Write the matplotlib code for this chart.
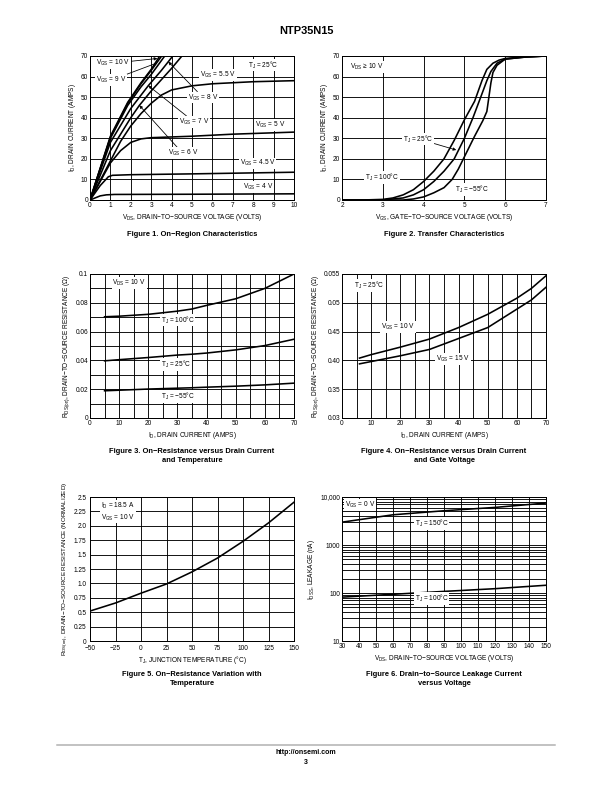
import matplotlib
matplotlib.use("Agg")
import matplotlib.pyplot as plt
from matplotlib.ticker import MultipleLocator, FixedLocator, LogLocator, NullFormatter

plt.rcParams["font.family"] = ["Liberation Sans", "DejaVu Sans"]
plt.rcParams["mathtext.fontset"] = "custom"
plt.rcParams["mathtext.rm"] = "Liberation Sans"
plt.rcParams["mathtext.default"] = "regular"

# ---- Figure 1: on-region characteristics (VDS in V, ID in A)
vgs10_vds = [0, 1.0, 1.85, 2.5, 3.0, 3.45]
vgs10_id = [0, 31, 47.5, 57, 63.5, 70.5]
vgs9_vds = [0, 1.0, 1.85, 2.5, 3.0, 3.55]
vgs9_id = [0, 30.5, 47, 56.5, 63, 70.5]
vgs8_vds = [0, 1.0, 1.85, 2.5, 3.0, 3.7]
vgs8_id = [0, 30, 46, 55, 61, 70.5]
vgs7_vds = [0, 1.0, 2.0, 2.86, 3.5, 4.1]
vgs7_id = [0, 28, 44.5, 55.6, 63, 70.5]
vgs6_vds = [0, 1.0, 2.0, 2.42, 3.0, 4.0, 4.55]
vgs6_id = [0, 24, 40, 46, 53, 64, 70.5]
vgs55_vds = [0, 1.0, 1.5, 2.0, 2.5, 3.0, 3.5, 4.0, 5.0, 6.0, 8.0, 10.0]
vgs55_id = [0, 19, 28.5, 36, 42, 47, 51, 53.5, 55.5, 56.5, 57.5, 58]
vgs5_vds = [0, 1.0, 1.5, 2.0, 2.5, 3.0, 5.0, 7.0, 10.0]
vgs5_id = [0, 18, 24, 28, 29.7, 30.3, 31, 32, 33]
vgs45_vds = [0, 0.5, 0.9, 1.1, 2.0, 5.0, 10.0]
vgs45_id = [0, 7, 11.3, 12, 12.3, 12.7, 13.5]
vgs4_vds = [0, 0.5, 0.8, 1.2, 5.0, 10.0]
vgs4_id = [0, 2, 2.5, 2.7, 2.8, 3.0]

# ---- Figure 2: transfer characteristics (VGS in V, ID in A)
t100_vgs = [2, 2.5, 3.0, 3.25, 3.5, 3.75, 4.0, 4.25, 4.5, 4.75, 5.0, 5.25, 5.43,
            5.55, 5.7, 5.85, 6.0, 6.5, 7.0]
t100_id = [0, 0, 0.3, 1, 2.5, 5, 9, 14, 20, 29, 39, 48, 58, 63.5, 66.5, 68, 68.8,
           69.6, 70]
t25_vgs = [2, 3.0, 3.5, 3.75, 4.0, 4.25, 4.5, 4.75, 5.0, 5.21, 5.4, 5.55, 5.65,
           5.8, 6.0, 6.5, 7.0]
t25_id = [0, 0, 1, 2.5, 5, 9, 14, 20, 30, 40, 50, 58, 62.5, 66.5, 68.5, 69.5, 70]
tm55_vgs = [2, 3.5, 3.75, 4.0, 4.25, 4.5, 4.7, 4.85, 5.0, 5.25, 5.45, 5.55, 5.6,
            5.65, 5.7, 5.8, 6.0, 6.5, 7.0]
tm55_id = [0, 0, 0.5, 1.5, 3.5, 6, 10, 15, 21, 31, 38.5, 43, 50, 57, 62, 65.5,
           68.5, 69.5, 70]

# ---- Figure 3: RDS(on) vs ID and temperature
f3_id = [5, 10, 20, 30, 35, 40, 50, 60, 70]
f3_r100 = [0.0703, 0.0707, 0.072, 0.0742, 0.0757, 0.0782, 0.0828, 0.0900, 0.1000]
f3_r25 = [0.0397, 0.0405, 0.0420, 0.0437, 0.0443, 0.0451, 0.0473, 0.0503, 0.0547]
f3_rm55 = [0.0189, 0.0193, 0.0201, 0.0207, 0.0210, 0.0214, 0.0221, 0.0230, 0.0242]

# ---- Figure 4: RDS(on) vs ID and gate voltage
f4_id = [6, 10, 20, 30, 40, 50, 60, 65, 70]
f4_r10 = [0.0404, 0.0410, 0.0423, 0.0437, 0.0457, 0.0480, 0.0508, 0.0525, 0.0547]
f4_r15 = [0.0394, 0.0398, 0.0408, 0.0419, 0.0438, 0.0457, 0.0489, 0.0505, 0.0527]
f4_yticks = [0.03, 0.035, 0.04, 0.045, 0.05, 0.055]
f4_ylabels = ["0.03", "0.35", "0.40", "0.45", "0.05", "0.055"]

# ---- Figure 5: normalized RDS(on) vs junction temperature
f5_tj = [-50, -25, 0, 25, 50, 75, 100, 125, 150]
f5_r = [0.52, 0.66, 0.83, 0.99, 1.20, 1.44, 1.73, 2.05, 2.41]

# ---- Figure 6: leakage vs VDS (nA)
f6_vds = [30, 60, 90, 120, 150]
f6_i150 = [2990, 4260, 5170, 6070, 7480]
f6_i100 = [82, 94, 108, 123, 145]

fig = plt.figure(figsize=(8.5, 11), dpi=72)
W, H = 612.0, 792.0


def make_axes(x0, x1, ytop, ybot):
    return fig.add_axes([x0 / W, 1 - ybot / H, (x1 - x0) / W, (ybot - ytop) / H])


def style(ax):
    ax.grid(True, which="major", color="black", lw=0.9)
    ax.set_axisbelow(True)
    for sp in ax.spines.values():
        sp.set_linewidth(1.0)
    ax.tick_params(length=0, labelsize=6.5, pad=2)


def label(ax, x, y, s, **kw):
    ax.text(x, y, s, fontsize=6.5, va="center", ha="left",
            bbox=dict(facecolor="white", edgecolor="none", pad=0.8), **kw)


def pointer(ax, s, xytext, xy, head=True):
    ax.annotate(s, xy=xy, xytext=xytext, fontsize=6.5, va="center", ha="left",
                bbox=dict(facecolor="white", edgecolor="none", pad=0.8),
                arrowprops=dict(arrowstyle="-|>" if head else "-", lw=0.8,
                                color="black", mutation_scale=6, shrinkA=0, shrinkB=0))


def caption(xc, y, s):
    fig.text(xc / W, 1 - y / H, s, fontsize=7.5, fontweight="bold", ha="center",
             va="top", linespacing=1.45)


LW = 1.6

# Figure 1
ax1 = make_axes(90, 294, 56, 200)
for xs, ys in [(vgs10_vds, vgs10_id), (vgs9_vds, vgs9_id), (vgs8_vds, vgs8_id),
               (vgs7_vds, vgs7_id), (vgs6_vds, vgs6_id), (vgs55_vds, vgs55_id),
               (vgs5_vds, vgs5_id), (vgs45_vds, vgs45_id), (vgs4_vds, vgs4_id)]:
    ax1.plot(xs, ys, color="black", lw=LW)
ax1.set_xlim(0, 10)
ax1.set_ylim(0, 70)
ax1.xaxis.set_major_locator(MultipleLocator(1))
ax1.yaxis.set_major_locator(MultipleLocator(10))
style(ax1)
ax1.set_xlabel(r"V$_{DS}$, DRAIN−TO−SOURCE VOLTAGE (VOLTS)", fontsize=6.5, labelpad=3)
ax1.set_ylabel(r"I$_{D}$, DRAIN CURRENT (AMPS)", fontsize=6.5, labelpad=3)
pointer(ax1, r"V$_{GS}$ = 10 V", (0.3, 66.5), (3.3, 68.8))
pointer(ax1, r"V$_{GS}$ = 9 V", (0.3, 58.3), (3.25, 66.5), head=False)
pointer(ax1, r"V$_{GS}$ = 8 V", (4.8, 49.8), (3.84, 67.2))
pointer(ax1, r"V$_{GS}$ = 7 V", (4.35, 38), (2.86, 55.6))
pointer(ax1, r"V$_{GS}$ = 6 V", (3.8, 22.7), (2.42, 46))
label(ax1, 5.4, 60.8, r"V$_{GS}$ = 5.5 V")
label(ax1, 8.1, 36.5, r"V$_{GS}$ = 5 V")
label(ax1, 7.35, 17.8, r"V$_{GS}$ = 4.5 V")
label(ax1, 7.5, 6.5, r"V$_{GS}$ = 4 V")
label(ax1, 7.75, 65.6, r"T$_{J}$ = 25°C")
caption(192, 231, "Figure 1. On−Region Characteristics")

# Figure 2
ax2 = make_axes(342, 546, 56, 200)
for xs, ys in [(t100_vgs, t100_id), (t25_vgs, t25_id), (tm55_vgs, tm55_id)]:
    ax2.plot(xs, ys, color="black", lw=LW)
ax2.set_xlim(2, 7)
ax2.set_ylim(0, 70)
ax2.xaxis.set_major_locator(MultipleLocator(1))
ax2.yaxis.set_major_locator(MultipleLocator(10))
style(ax2)
ax2.set_xlabel(r"V$_{GS}$, GATE−TO−SOURCE VOLTAGE (VOLTS)", fontsize=6.5, labelpad=3)
ax2.set_ylabel(r"I$_{D}$, DRAIN CURRENT (AMPS)", fontsize=6.5, labelpad=3)
label(ax2, 2.2, 64.8, r"V$_{DS}$ ≥ 10 V")
pointer(ax2, r"T$_{J}$ = 25°C", (3.5, 29.7), (4.8, 24.3))
label(ax2, 2.57, 11, r"T$_{J}$ = 100°C")
label(ax2, 4.76, 5.2, r"T$_{J}$ = −55°C")
caption(444, 231, "Figure 2. Transfer Characteristics")

# Figure 3
ax3 = make_axes(90, 294, 274, 418)
for ys in [f3_r100, f3_r25, f3_rm55]:
    ax3.plot(f3_id, ys, color="black", lw=LW)
ax3.set_xlim(0, 70)
ax3.set_ylim(0, 0.1)
style(ax3)
ax3.set_xticks(range(0, 71, 5))
ax3.set_xticklabels([str(v) if v % 10 == 0 else "" for v in range(0, 71, 5)])
yt = [i / 100 for i in range(11)]
ax3.set_yticks(yt)
ax3.set_yticklabels(["0", "", "0.02", "", "0.04", "", "0.06", "", "0.08", "", "0.1"])
ax3.set_xlabel(r"I$_{D}$, DRAIN CURRENT (AMPS)", fontsize=6.5, labelpad=3)
ax3.set_ylabel(r"R$_{DS(on)}$, DRAIN−TO−SOURCE RESISTANCE (Ω)", fontsize=6.5, labelpad=3)
label(ax3, 7.7, 0.0935, r"V$_{DS}$ = 10 V")
label(ax3, 24.3, 0.068, r"T$_{J}$ = 100°C")
label(ax3, 24.3, 0.037, r"T$_{J}$ = 25°C")
label(ax3, 24.3, 0.015, r"T$_{J}$ = −55°C")
caption(192, 448, "Figure 3. On−Resistance versus Drain Current\nand Temperature")

# Figure 4
ax4 = make_axes(342, 546, 274, 418)
for ys in [f4_r10, f4_r15]:
    ax4.plot(f4_id, ys, color="black", lw=LW)
ax4.set_xlim(0, 70)
ax4.set_ylim(0.03, 0.055)
style(ax4)
ax4.set_xticks(range(0, 71, 5))
ax4.set_xticklabels([str(v) if v % 10 == 0 else "" for v in range(0, 71, 5)])
ax4.set_yticks(f4_yticks)
ax4.set_yticklabels(f4_ylabels)
ax4.set_xlabel(r"I$_{D}$, DRAIN CURRENT (AMPS)", fontsize=6.5, labelpad=3)
ax4.set_ylabel(r"R$_{DS(on)}$, DRAIN−TO−SOURCE RESISTANCE (Ω)", fontsize=6.5, labelpad=3)
label(ax4, 4.2, 0.053, r"T$_{J}$ = 25°C")
label(ax4, 13.4, 0.0458, r"V$_{GS}$ = 10 V")
label(ax4, 32.3, 0.0403, r"V$_{GS}$ = 15 V")
caption(444, 448, "Figure 4. On−Resistance versus Drain Current\nand Gate Voltage")

# Figure 5
ax5 = make_axes(90, 294, 497, 641)
ax5.plot(f5_tj, f5_r, color="black", lw=LW)
ax5.set_xlim(-50, 150)
ax5.set_ylim(0, 2.5)
ax5.xaxis.set_major_locator(MultipleLocator(25))
ax5.set_yticks([i * 0.25 for i in range(11)])
ax5.set_yticklabels(["0", "0.25", "0.5", "0.75", "1.0", "1.25", "1.5", "1.75",
                     "2.0", "2.25", "2.5"])
style(ax5)
ax5.tick_params(axis="x", pad=3.5)
ax5.tick_params(axis="y", pad=3.5)
ax5.set_xlabel(r"T$_{J}$, JUNCTION TEMPERATURE (°C)", fontsize=6.5, labelpad=3)
ax5.set_ylabel(r"R$_{DS(on)}$, DRAIN−TO−SOURCE RESISTANCE (NORMALIZED)",
               fontsize=6.3, labelpad=3)
ax5.text(-39, 2.245, "I$_{D}$ = 18.5 A\nV$_{GS}$ = 10 V", fontsize=6.5, va="center",
         ha="left", linespacing=1.2,
         bbox=dict(facecolor="white", edgecolor="none", pad=0.8))
caption(192, 671, "Figure 5. On−Resistance Variation with\nTemperature")

# Figure 6
ax6 = make_axes(342, 546, 497, 641)
ax6.semilogy(f6_vds, f6_i150, color="black", lw=LW)
ax6.semilogy(f6_vds, f6_i100, color="black", lw=LW)
ax6.set_xlim(30, 150)
ax6.set_ylim(10, 10000)
ax6.xaxis.set_major_locator(MultipleLocator(10))
ax6.yaxis.set_major_locator(FixedLocator([10, 100, 1000, 10000]))
ax6.set_yticklabels(["10", "100", "1000", "10,000"])
ax6.yaxis.set_minor_locator(LogLocator(base=10, subs=range(2, 10)))
ax6.yaxis.set_minor_formatter(NullFormatter())
style(ax6)
ax6.grid(True, which="minor", axis="y", color="black", lw=0.9)
ax6.tick_params(which="minor", length=0)
ax6.set_xlabel(r"V$_{DS}$, DRAIN−TO−SOURCE VOLTAGE (VOLTS)", fontsize=6.5, labelpad=3)
ax6.set_ylabel(r"I$_{DSS}$, LEAKAGE (nA)", fontsize=6.5, labelpad=3)
label(ax6, 31.9, 6900, r"V$_{GS}$ = 0 V")
label(ax6, 72.8, 2850, r"T$_{J}$ = 150°C")
label(ax6, 72.8, 76, r"T$_{J}$ = 100°C")
caption(444, 671, "Figure 6. Drain−to−Source Leakage Current\nversus Voltage")

# page header / footer
fig.text(0.5, 1 - 31 / H, "NTP35N15", fontsize=11, fontweight="bold", ha="center",
         va="center")
fig.add_artist(plt.Line2D([57 / W, 555 / W], [1 - 744.5 / H] * 2, color="#b0b0b0",
                          lw=1.5))
fig.text(0.5, 1 - 753 / H, "http://onsemi.com", fontsize=7, fontweight="bold",
         ha="center", va="center")
fig.text(0.5, 1 - 763 / H, "3", fontsize=7, fontweight="bold", ha="center", va="center")

fig.savefig("out.png", dpi=72)
